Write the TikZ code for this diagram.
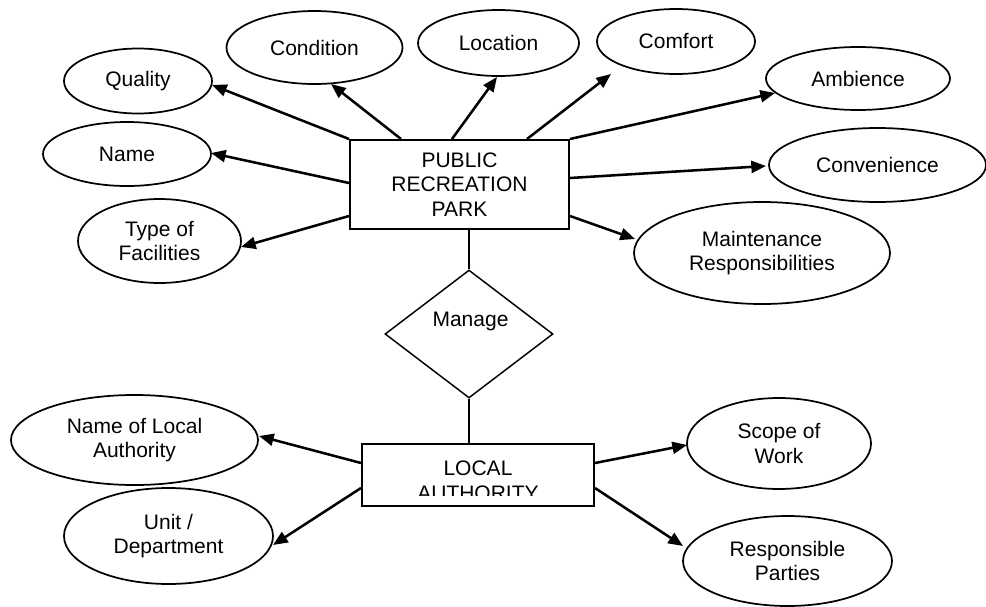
\documentclass[tikz,border=0pt]{standalone}
\usepackage{fontspec}
\setmainfont{Liberation Sans}
\usetikzlibrary{shapes.geometric,arrows.meta,calc}
\begin{document}
\begin{tikzpicture}[x=0.75pt,y=-0.75pt,
  txt/.style={font=\fontsize{15.75}{18.5}\selectfont},
  attr/.style={draw,ellipse,line width=1.3pt,inner sep=0pt,align=center,txt},
  ent/.style={draw,rectangle,line width=1.5pt,inner sep=0pt,align=center,txt},
  rel/.style={draw,diamond,line width=1.1pt,inner sep=0pt},
  arr/.style={line width=1.9pt,-{Triangle[length=11pt,width=9pt]}},
  link/.style={line width=1.1pt}]
\useasboundingbox (0,0) rectangle (986,607);
\fill[white] (0,0) rectangle (986,607);

% entities and relationship
\node[ent,minimum width=164.25pt,minimum height=66.75pt] (pr) at (459.5,184.5) {PUBLIC\\RECREATION\\PARK};
\node[rel,minimum width=126pt,minimum height=96pt] (dm) at (469,334) {};
\node[txt,anchor=base] (dmt) at (470.5,326) {Manage};
\begin{scope}
  \clip (362,444) rectangle (594,495);
  \node[txt,align=center] (lat) at (478,480.5) {LOCAL\\AUTHORITY};
\end{scope}
\node[ent,minimum width=174pt,minimum height=46.5pt] (la) at (478,475) {};

% attributes of park
\node[attr,minimum width=111pt,minimum height=48.75pt] (q) at (138,81) {Quality};
\node[attr,minimum width=132pt,minimum height=54.75pt] (cd) at (314.5,47.5) {Condition};
\node[attr,minimum width=126pt,minimum height=48pt] (nm) at (127,154) {Name};
\node[attr,minimum width=122.25pt,minimum height=63pt] (tf) at (159.5,241) {Type of\\Facilities};
\node[attr,minimum width=120.75pt,minimum height=49.5pt] (lc) at (498.5,43) {Location};
\node[attr,minimum width=118.5pt,minimum height=48.75pt] (cf) at (676,41.5) {Comfort};
\node[attr,minimum width=138pt,minimum height=47.25pt] (am) at (858,78.5) {Ambience};
\node[attr,minimum width=162.75pt,minimum height=55.5pt] (cv) at (877.5,165) {Convenience};
\node[attr,minimum width=192pt,minimum height=76.5pt] (mr) at (762,253) {Maintenance\\Responsibilities};

% attributes of authority
\node[attr,minimum width=185.25pt,minimum height=67.5pt] (nla) at (134.5,440) {Name of Local\\Authority};
\node[attr,minimum width=156.75pt,minimum height=72pt] (ud) at (168.5,536) {Unit /\\Department};
\node[attr,minimum width=138pt,minimum height=68.25pt] (sw) at (779,443.5) {Scope of\\Work};
\node[attr,minimum width=156.75pt,minimum height=67.5pt] (rp) at (787.5,561) {Responsible\\Parties};

% links
\draw[link] (dm.north) -- (dm.north |- pr.south);
\draw[link] (dm.south) -- (dm.south |- la.north);

% arrows from park
\draw[arr] (pr.north west) -- ($(q.center)+(74,4)$);
\draw[arr] ($(pr.north west)+(52,0)$) -- ($(cd.center)+(16.5,36.5)$);
\draw[arr] ($(pr.north west)+(103,0)$) -- ($(lc.center)+(-1.5,34)$);
\draw[arr] ($(pr.north west)+(178,0)$) -- ($(cf.center)+(-65,32.5)$);
\draw[arr] (pr.north east) -- ($(am.center)+(-83,14.5)$);
\draw[arr] ($(pr.north east)+(0,39)$) -- ($(cv.center)+(-111.5,1)$);
\draw[arr] ($(pr.north east)+(0,77)$) -- ($(mr.center)+(-127,-14)$);
\draw[arr] ($(pr.north west)+(0,44)$) -- ($(nm.center)+(84,-1)$);
\draw[arr] ($(pr.north west)+(0,77)$) -- ($(tf.center)+(81.5,6)$);

% arrows from authority
\draw[arr] ($(la.north west)+(0,20)$) -- ($(nla.center)+(124.5,-4)$);
\draw[arr] ($(la.north west)+(0,45)$) -- ($(ud.center)+(104.5,9)$);
\draw[arr] ($(la.north east)+(0,20)$) -- ($(sw.center)+(-92,1.5)$);
\draw[arr] ($(la.north east)+(0,45)$) -- ($(rp.center)+(-104.5,-15)$);
\end{tikzpicture}
\end{document}
